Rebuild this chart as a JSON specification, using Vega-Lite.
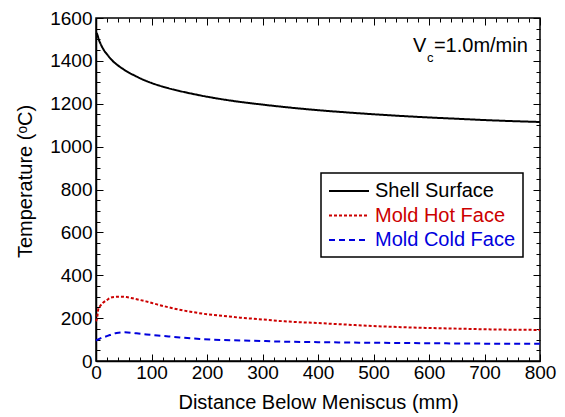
{
  "$schema": "https://vega.github.io/schema/vega-lite/v6.json",
  "width": 444,
  "height": 343,
  "autosize": {"type": "none"},
  "padding": {"left": 96, "top": 18, "right": 25, "bottom": 56},
  "background": "white",
  "config": {
    "font": "Liberation Sans",
    "view": {"stroke": "black", "strokeWidth": 1.5},
    "axis": {
      "grid": false,
      "domainColor": "black",
      "domainWidth": 1.5,
      "tickColor": "black",
      "tickWidth": 1,
      "labelFont": "Liberation Sans",
      "labelColor": "black",
      "labelFontSize": 19,
      "titleFont": "Liberation Sans",
      "titleColor": "black",
      "titleFontSize": 20,
      "titleFontWeight": "normal"
    }
  },
  "datasets": {
    "curves": [
      {"dist": 0, "temp": 1530, "series": "Shell Surface"},
      {"dist": 2, "temp": 1525, "series": "Shell Surface"},
      {"dist": 5, "temp": 1500, "series": "Shell Surface"},
      {"dist": 10, "temp": 1470, "series": "Shell Surface"},
      {"dist": 15, "temp": 1447, "series": "Shell Surface"},
      {"dist": 20, "temp": 1430, "series": "Shell Surface"},
      {"dist": 30, "temp": 1400, "series": "Shell Surface"},
      {"dist": 40, "temp": 1378, "series": "Shell Surface"},
      {"dist": 50, "temp": 1360, "series": "Shell Surface"},
      {"dist": 60, "temp": 1344, "series": "Shell Surface"},
      {"dist": 70, "temp": 1331, "series": "Shell Surface"},
      {"dist": 80, "temp": 1318, "series": "Shell Surface"},
      {"dist": 100, "temp": 1297, "series": "Shell Surface"},
      {"dist": 120, "temp": 1280, "series": "Shell Surface"},
      {"dist": 140, "temp": 1266, "series": "Shell Surface"},
      {"dist": 160, "temp": 1254, "series": "Shell Surface"},
      {"dist": 180, "temp": 1243, "series": "Shell Surface"},
      {"dist": 200, "temp": 1233, "series": "Shell Surface"},
      {"dist": 250, "temp": 1212, "series": "Shell Surface"},
      {"dist": 300, "temp": 1196, "series": "Shell Surface"},
      {"dist": 350, "temp": 1182, "series": "Shell Surface"},
      {"dist": 400, "temp": 1170, "series": "Shell Surface"},
      {"dist": 450, "temp": 1160, "series": "Shell Surface"},
      {"dist": 500, "temp": 1151, "series": "Shell Surface"},
      {"dist": 550, "temp": 1143, "series": "Shell Surface"},
      {"dist": 600, "temp": 1136, "series": "Shell Surface"},
      {"dist": 650, "temp": 1130, "series": "Shell Surface"},
      {"dist": 700, "temp": 1124, "series": "Shell Surface"},
      {"dist": 750, "temp": 1119, "series": "Shell Surface"},
      {"dist": 800, "temp": 1115, "series": "Shell Surface"},

      {"dist": 0, "temp": 185, "series": "Mold Hot Face"},
      {"dist": 2, "temp": 200, "series": "Mold Hot Face"},
      {"dist": 4, "temp": 240, "series": "Mold Hot Face"},
      {"dist": 8, "temp": 258, "series": "Mold Hot Face"},
      {"dist": 12, "temp": 270, "series": "Mold Hot Face"},
      {"dist": 20, "temp": 285, "series": "Mold Hot Face"},
      {"dist": 26, "temp": 295, "series": "Mold Hot Face"},
      {"dist": 35, "temp": 299, "series": "Mold Hot Face"},
      {"dist": 45, "temp": 300, "series": "Mold Hot Face"},
      {"dist": 55, "temp": 298, "series": "Mold Hot Face"},
      {"dist": 70, "temp": 290, "series": "Mold Hot Face"},
      {"dist": 90, "temp": 278, "series": "Mold Hot Face"},
      {"dist": 110, "temp": 264, "series": "Mold Hot Face"},
      {"dist": 140, "temp": 245, "series": "Mold Hot Face"},
      {"dist": 170, "temp": 230, "series": "Mold Hot Face"},
      {"dist": 200, "temp": 218, "series": "Mold Hot Face"},
      {"dist": 230, "temp": 210, "series": "Mold Hot Face"},
      {"dist": 260, "temp": 202, "series": "Mold Hot Face"},
      {"dist": 290, "temp": 196, "series": "Mold Hot Face"},
      {"dist": 340, "temp": 185, "series": "Mold Hot Face"},
      {"dist": 400, "temp": 177, "series": "Mold Hot Face"},
      {"dist": 450, "temp": 170, "series": "Mold Hot Face"},
      {"dist": 500, "temp": 163, "series": "Mold Hot Face"},
      {"dist": 550, "temp": 158, "series": "Mold Hot Face"},
      {"dist": 600, "temp": 154, "series": "Mold Hot Face"},
      {"dist": 650, "temp": 151, "series": "Mold Hot Face"},
      {"dist": 700, "temp": 148, "series": "Mold Hot Face"},
      {"dist": 750, "temp": 146, "series": "Mold Hot Face"},
      {"dist": 800, "temp": 145, "series": "Mold Hot Face"},

      {"dist": 0, "temp": 95, "series": "Mold Cold Face"},
      {"dist": 2, "temp": 98, "series": "Mold Cold Face"},
      {"dist": 10, "temp": 108, "series": "Mold Cold Face"},
      {"dist": 16, "temp": 113, "series": "Mold Cold Face"},
      {"dist": 25, "temp": 121, "series": "Mold Cold Face"},
      {"dist": 37, "temp": 131, "series": "Mold Cold Face"},
      {"dist": 52, "temp": 134, "series": "Mold Cold Face"},
      {"dist": 73, "temp": 129, "series": "Mold Cold Face"},
      {"dist": 91, "temp": 124, "series": "Mold Cold Face"},
      {"dist": 121, "temp": 117, "series": "Mold Cold Face"},
      {"dist": 151, "temp": 110, "series": "Mold Cold Face"},
      {"dist": 187, "temp": 103, "series": "Mold Cold Face"},
      {"dist": 229, "temp": 98, "series": "Mold Cold Face"},
      {"dist": 277, "temp": 95, "series": "Mold Cold Face"},
      {"dist": 344, "temp": 90, "series": "Mold Cold Face"},
      {"dist": 400, "temp": 88, "series": "Mold Cold Face"},
      {"dist": 500, "temp": 85, "series": "Mold Cold Face"},
      {"dist": 600, "temp": 83, "series": "Mold Cold Face"},
      {"dist": 700, "temp": 81, "series": "Mold Cold Face"},
      {"dist": 800, "temp": 80, "series": "Mold Cold Face"}
    ],
    "note": [{"dist": 571, "temp": 1441}]
  },
  "layer": [
    {
      "data": {"name": "curves"},
      "mark": {"type": "line", "strokeWidth": 2, "interpolate": "monotone"},
      "encoding": {
        "x": {
          "field": "dist",
          "type": "quantitative",
          "scale": {"domain": [0, 800], "nice": false, "zero": false},
          "axis": {
            "orient": "bottom",
            "title": "Distance Below Meniscus (mm)",
            "values": [0,20,40,60,80,100,120,140,160,180,200,220,240,260,280,300,320,340,360,380,400,420,440,460,480,500,520,540,560,580,600,620,640,660,680,700,720,740,760,780,800],
            "tickSize": {"condition": {"test": "datum.value % 100 === 0", "value": -7}, "value": -4},
            "format": "d",
            "labelExpr": "datum.value % 100 === 0 ? datum.label : ''",
            "labelPadding": 9,
            "labelFlush": false,
            "labelOverlap": false,
            "titlePadding": 7
          }
        },
        "y": {
          "field": "temp",
          "type": "quantitative",
          "scale": {"domain": [0, 1600], "nice": false},
          "axis": {
            "orient": "left",
            "title": "Temperature (ᵒC)",
            "titleY": 163,
            "titleAlign": "center",
            "values": [0,50,100,150,200,250,300,350,400,450,500,550,600,650,700,750,800,850,900,950,1000,1050,1100,1150,1200,1250,1300,1350,1400,1450,1500,1550,1600],
            "tickSize": {"condition": {"test": "datum.value % 200 === 0", "value": -7}, "value": -4},
            "format": "d",
            "labelExpr": "datum.value % 200 === 0 ? datum.label : ''",
            "labelPadding": 11,
            "labelFlush": false,
            "labelOverlap": false,
            "titlePadding": 14
          }
        },
        "color": {
          "field": "series",
          "type": "nominal",
          "scale": {
            "domain": ["Shell Surface", "Mold Hot Face", "Mold Cold Face"],
            "range": ["#000000", "#cc0000", "#0000dd"]
          },
          "legend": {
            "orient": "none",
            "legendX": 225,
            "legendY": 155,
            "title": null,
            "symbolType": "M-1,0H3",
            "symbolSize": 400,
            "symbolStrokeWidth": 2,
            "labelFont": "Liberation Sans",
            "labelFontSize": 20,
            "labelOffset": 25,
            "labelLimit": 0,
            "rowPadding": 3.5,
            "padding": 7,
            "strokeColor": "black",
            "fillColor": "white",
            "encode": {
              "legend": {"update": {"strokeWidth": {"value": 1.5}}},
              "labels": {"update": {"fill": {"scale": "color", "field": "value"}}}
            }
          }
        },
        "strokeDash": {
          "field": "series",
          "type": "nominal",
          "scale": {
            "domain": ["Shell Surface", "Mold Hot Face", "Mold Cold Face"],
            "range": [[1, 0], [3, 2], [6, 4]]
          },
          "legend": null
        }
      }
    },
    {
      "data": {"name": "note"},
      "mark": {"type": "text", "text": "V", "font": "Liberation Sans", "fontSize": 20, "align": "left", "baseline": "alphabetic", "color": "black"},
      "encoding": {
        "x": {
          "field": "dist",
          "type": "quantitative",
          "axis": {
            "orient": "top",
            "title": null,
            "labels": false,
            "domain": false,
            "values": [0,20,40,60,80,100,120,140,160,180,200,220,240,260,280,300,320,340,360,380,400,420,440,460,480,500,520,540,560,580,600,620,640,660,680,700,720,740,760,780,800],
            "tickSize": {"condition": {"test": "datum.value % 100 === 0", "value": -7}, "value": -4}
          }
        },
        "y": {
          "field": "temp",
          "type": "quantitative",
          "axis": {
            "orient": "right",
            "title": null,
            "labels": false,
            "domain": false,
            "values": [0,50,100,150,200,250,300,350,400,450,500,550,600,650,700,750,800,850,900,950,1000,1050,1100,1150,1200,1250,1300,1350,1400,1450,1500,1550,1600],
            "tickSize": {"condition": {"test": "datum.value % 200 === 0", "value": -7}, "value": -4}
          }
        }
      }
    },
    {
      "data": {"name": "note"},
      "mark": {"type": "text", "text": "c", "font": "Liberation Sans", "fontSize": 13, "align": "left", "baseline": "alphabetic", "dx": 14, "dy": 10, "color": "black"},
      "encoding": {
        "x": {"field": "dist", "type": "quantitative", "axis": null},
        "y": {"field": "temp", "type": "quantitative", "axis": null}
      }
    },
    {
      "data": {"name": "note"},
      "mark": {"type": "text", "text": "=1.0m/min", "font": "Liberation Sans", "fontSize": 20, "align": "left", "baseline": "alphabetic", "dx": 21, "color": "black"},
      "encoding": {
        "x": {"field": "dist", "type": "quantitative", "axis": null},
        "y": {"field": "temp", "type": "quantitative", "axis": null}
      }
    }
  ],
  "resolve": {"axis": {"x": "independent", "y": "independent"}}
}
